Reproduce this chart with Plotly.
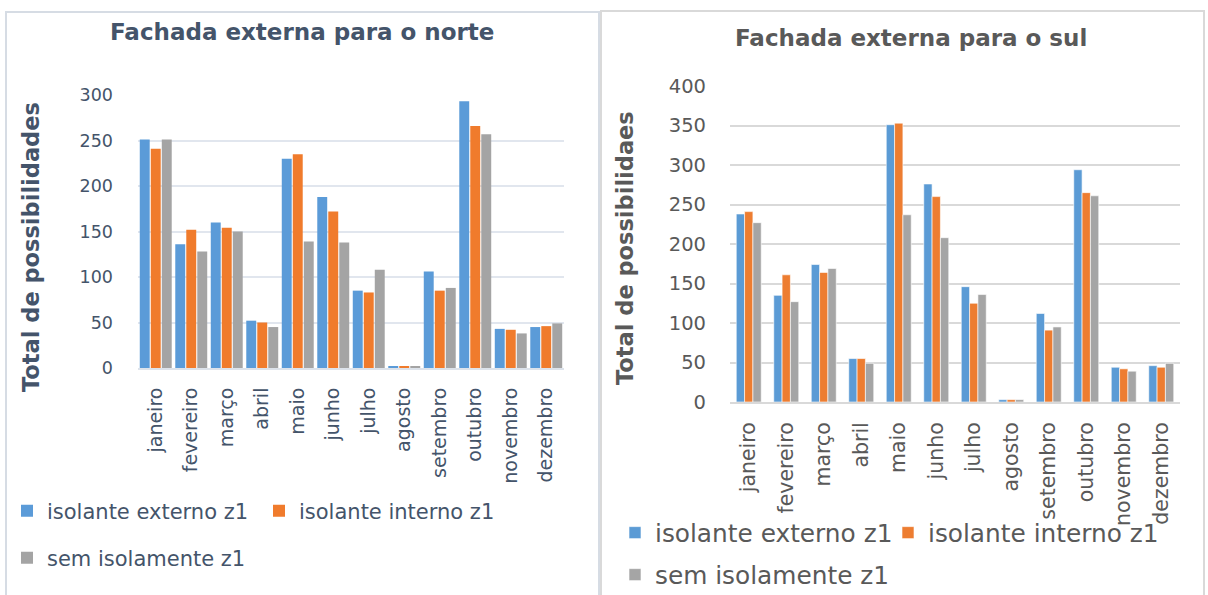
import plotly.graph_objects as go

W, H = 1208, 595

months = ["janeiro", "fevereiro", "março", "abril", "maio", "junho", "julho",
          "agosto", "setembro", "outubro", "novembro", "dezembro"]
series_names = ["isolante externo z1", "isolante interno z1", "sem isolamente z1"]

# Fachada externa para o norte
norte_externo = [251, 136, 160, 52, 230, 188, 85, 2, 106, 293, 43, 45]
norte_interno = [241, 152, 154, 50, 235, 172, 83, 2, 85, 266, 42, 46]
norte_sem = [251, 128, 150, 45, 139, 138, 108, 2, 88, 257, 38, 49]

# Fachada externa para o sul
sul_externo = [238, 135, 174, 55, 351, 276, 146, 3, 112, 294, 44, 46]
sul_interno = [241, 161, 164, 55, 353, 260, 125, 3, 91, 265, 42, 44]
sul_sem = [227, 127, 169, 49, 237, 208, 136, 3, 95, 261, 39, 49]

FONT = "DejaVu Sans"
left_text = "#44546A"
right_text = "#595959"
left_colors = ["#5B9BD8", "#F07B2C", "#A4A4A4"]
right_colors = ["#5B9BD5", "#ED7D31", "#A5A5A5"]


def px_x(v):
    return v / W


def px_y(v):
    return (H - v) / H


fig = go.Figure()

# left chart bars
lw, lgap = 0.28, 0.03
left_offsets = [-0.45, -0.45 + lw + lgap, -0.45 + 2 * (lw + lgap)]
for i, (vals, name) in enumerate(zip([norte_externo, norte_interno, norte_sem], series_names)):
    fig.add_trace(go.Bar(
        x=months, y=vals, name=name, xaxis="x", yaxis="y",
        width=lw, offset=left_offsets[i],
        marker=dict(color=left_colors[i], line=dict(width=0)),
        legend=["legend", "legend2", "legend3"][i],
    ))

# right chart bars
rw = 0.222
right_offsets = [-0.333, -0.333 + rw, -0.333 + 2 * rw]
for i, (vals, name) in enumerate(zip([sul_externo, sul_interno, sul_sem], series_names)):
    fig.add_trace(go.Bar(
        x=months, y=vals, name=name, xaxis="x2", yaxis="y2",
        width=rw, offset=right_offsets[i],
        marker=dict(color=right_colors[i], line=dict(width=0.6, color="white")),
        legend=["legend4", "legend5", "legend6"][i],
    ))

leg_common = dict(orientation="h", xanchor="left", yanchor="middle",
                  xref="container", yref="container",
                  bgcolor="rgba(0,0,0,0)", borderwidth=0)
left_leg_font = dict(family=FONT, size=21, color=left_text)
right_leg_font = dict(family=FONT, size=24.8, color=right_text)

layout_legends = {
    "legend": dict(x=px_x(7), y=px_y(511), font=left_leg_font, **leg_common),
    "legend2": dict(x=px_x(259), y=px_y(511), font=left_leg_font, **leg_common),
    "legend3": dict(x=px_x(7), y=px_y(558), font=left_leg_font, **leg_common),
    "legend4": dict(x=px_x(615), y=px_y(533), font=right_leg_font, **leg_common),
    "legend5": dict(x=px_x(888), y=px_y(533), font=right_leg_font, **leg_common),
    "legend6": dict(x=px_x(615), y=px_y(575), font=right_leg_font, **leg_common),
}

fig.update_layout(
    width=W, height=H,
    autosize=False,
    margin=dict(l=0, r=0, t=0, b=0, pad=0, autoexpand=False),
    paper_bgcolor="white", plot_bgcolor="white",
    barmode="overlay",
    showlegend=True,
    font=dict(family=FONT),
    xaxis=dict(
        domain=[px_x(138), px_x(564)], anchor="y", automargin=False,
        type="category", range=[-0.5, 11.5],
        showline=True, linecolor="#DDE3EB", linewidth=2,
        showgrid=False, ticks="", tickangle=-90,
        tickfont=dict(family=FONT, size=19, color=left_text),
        ticklabelstandoff=10, fixedrange=True,
    ),
    yaxis=dict(
        domain=[px_y(368), px_y(95)], anchor="x", automargin=False,
        range=[0, 300], dtick=50,
        showgrid=True, gridcolor="#E1E6EE", gridwidth=2,
        zeroline=False, showline=False, ticks="",
        tickfont=dict(family=FONT, size=17.5, color=left_text),
        ticklabelstandoff=24, fixedrange=True,
    ),
    xaxis2=dict(
        domain=[px_x(730), px_x(1180)], anchor="y2", automargin=False,
        type="category", range=[-0.5, 11.5],
        showline=True, linecolor="#D9D9D9", linewidth=2,
        showgrid=False, ticks="", tickangle=-90,
        tickfont=dict(family=FONT, size=20.5, color=right_text),
        ticklabelstandoff=10, fixedrange=True,
    ),
    yaxis2=dict(
        domain=[px_y(402), px_y(86)], anchor="x2", automargin=False,
        range=[0, 400], dtick=50,
        showgrid=True, gridcolor="#D9D9D9", gridwidth=2,
        zeroline=False, showline=False, ticks="",
        tickfont=dict(family=FONT, size=19.5, color=right_text),
        ticklabelstandoff=23, fixedrange=True,
    ),
    **layout_legends,
)

# panel borders
fig.add_shape(type="rect", xref="paper", yref="paper",
              x0=px_x(6), x1=px_x(599), y0=px_y(600), y1=px_y(12),
              line=dict(color="#D6DCE4", width=2), fillcolor="rgba(0,0,0,0)", layer="below")
fig.add_shape(type="rect", xref="paper", yref="paper",
              x0=px_x(601), x1=px_x(1204), y0=px_y(600), y1=px_y(11),
              line=dict(color="#D9D9D9", width=2), fillcolor="rgba(0,0,0,0)", layer="below")

# titles
fig.add_annotation(text="<b>Fachada externa para o norte</b>", xref="paper", yref="paper",
                   x=px_x(302), y=px_y(32), xanchor="center", yanchor="middle", showarrow=False,
                   font=dict(family=FONT, size=23, color=left_text))
fig.add_annotation(text="<b>Fachada externa para o sul</b>", xref="paper", yref="paper",
                   x=px_x(911), y=px_y(38), xanchor="center", yanchor="middle", showarrow=False,
                   font=dict(family=FONT, size=23, color=right_text))

# y-axis titles
fig.add_annotation(text="<b>Total de possibilidades</b>", xref="paper", yref="paper",
                   x=px_x(31), y=px_y(247), xanchor="center", yanchor="middle", showarrow=False,
                   textangle=-90, font=dict(family=FONT, size=22.5, color=left_text))
fig.add_annotation(text="<b>Total de possibilidaes</b>", xref="paper", yref="paper",
                   x=px_x(625), y=px_y(248), xanchor="center", yanchor="middle", showarrow=False,
                   textangle=-90, font=dict(family=FONT, size=22.5, color=right_text))

fig.write_html("out.html")
